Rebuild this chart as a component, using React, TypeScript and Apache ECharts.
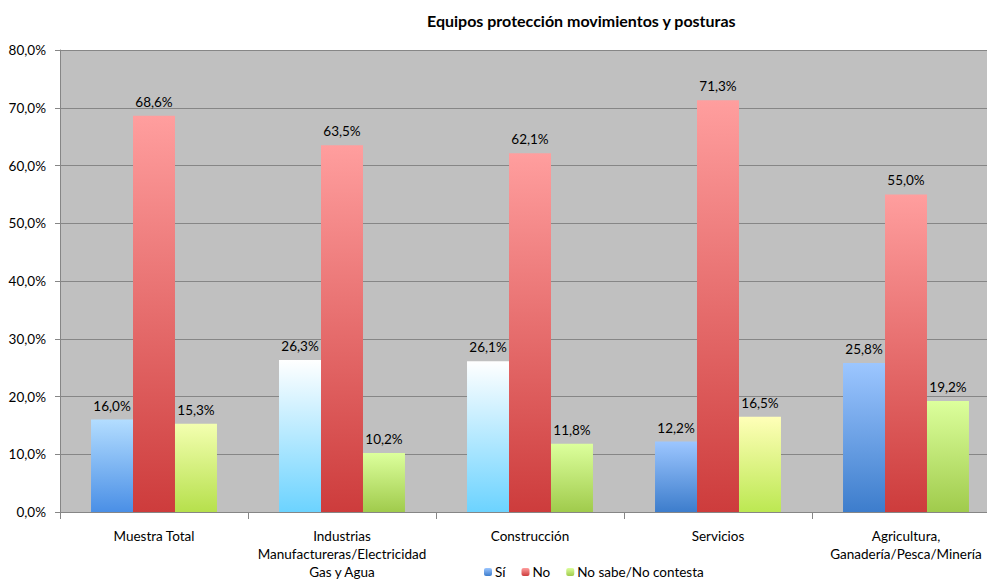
import React, { useEffect, useRef } from "react";
import * as echarts from "echarts";

const categories = [
  "Muestra Total",
  "Industrias\nManufactureras/Electricidad\nGas y Agua",
  "Construcción",
  "Servicios",
  "Agricultura,\nGanadería/Pesca/Minería",
];
const seriesNames = ["Sí", "No", "No sabe/No contesta"];
const siValues = [16.0, 26.3, 26.1, 12.2, 25.8];
const noValues = [68.6, 63.5, 62.1, 71.3, 55.0];
const nsValues = [15.3, 10.2, 11.8, 16.5, 19.2];
const yTicks = [0, 10, 20, 30, 40, 50, 60, 70, 80];

const grad = (top: string, bottom: string) =>
  new echarts.graphic.LinearGradient(0, 0, 0, 1, [
    { offset: 0, color: top },
    { offset: 1, color: bottom },
  ]);

const siColors: [string, string][] = [
  ["#b3ddff", "#4a8fe6"],
  ["#ffffff", "#6cd3ff"],
  ["#ffffff", "#6cd3ff"],
  ["#9cc6ff", "#3d7dcc"],
  ["#9cc6ff", "#3d7dcc"],
];
const nsColors: [string, string][] = [
  ["#f3ffb0", "#b6e04c"],
  ["#dcff9c", "#a0cb4c"],
  ["#dcff9c", "#a0cb4c"],
  ["#ffffb8", "#bce852"],
  ["#dcff9c", "#a0cb4c"],
];

const fmt = (v: number) => v.toFixed(1).replace(".", ",") + "%";
const FONT = "Lato, 'Noto Sans', sans-serif";
const FS = 13.5;

export default function App() {
  const ref = useRef<HTMLDivElement>(null);
  useEffect(() => {
    if (!ref.current) return;
    const chart = echarts.init(ref.current, null, { renderer: "svg" });
    const label = {
      show: true,
      position: "top" as const,
      distance: 7,
      color: "#000",
      fontSize: FS,
      fontFamily: FONT,
      formatter: (p: any) => fmt(p.value),
    };
    chart.setOption({
      animation: false,
      backgroundColor: "#ffffff",
      textStyle: { fontFamily: FONT },
      title: {
        text: "Equipos protección movimientos y posturas",
        left: 427,
        top: 12,
        padding: 0,
        textStyle: { fontSize: 16, fontWeight: "bold", color: "#000", fontFamily: FONT },
      },
      legend: {
        data: seriesNames,
        left: 484,
        top: 565,
        padding: 0,
        itemWidth: 8,
        itemHeight: 8,
        itemGap: 16,
        textStyle: { fontSize: FS, color: "#000", fontFamily: FONT, padding: [0, 0, 0, -2] },
      },
      grid: {
        left: 60,
        top: 50,
        width: 940,
        height: 462,
        outerBoundsMode: "none",
        containLabel: false,
        show: true,
        backgroundColor: "#c0c0c0",
        borderWidth: 0,
      },
      xAxis: {
        type: "category",
        data: categories,
        axisLine: { show: true, lineStyle: { color: "#868686", width: 1 } },
        axisTick: { show: true, alignWithLabel: false, length: 7, lineStyle: { color: "#868686" } },
        axisLabel: {
          interval: 0,
          color: "#000",
          fontSize: FS,
          fontFamily: FONT,
          lineHeight: 18,
          margin: 15,
        },
        splitLine: { show: false },
      },
      yAxis: {
        type: "value",
        min: yTicks[0],
        max: yTicks[yTicks.length - 1],
        interval: 10,
        axisLine: { show: true, lineStyle: { color: "#868686", width: 1 } },
        axisTick: { show: true, length: 5, lineStyle: { color: "#868686" } },
        axisLabel: {
          color: "#000",
          fontSize: FS,
          fontFamily: FONT,
          margin: 14,
          formatter: (v: number) => fmt(v),
        },
        splitLine: { show: true, lineStyle: { color: "#868686", width: 1 } },
      },
      series: [
        {
          name: seriesNames[0],
          type: "bar",
          barGap: "0%",
          barCategoryGap: "33%",
          itemStyle: { color: grad("#9cc6ff", "#3d7dcc") },
          data: siValues.map((v, i) => ({
            value: v,
            itemStyle: { color: grad(siColors[i][0], siColors[i][1]) },
          })),
          label,
        },
        {
          name: seriesNames[1],
          type: "bar",
          itemStyle: { color: grad("#ff9e9e", "#cd3c3c") },
          data: noValues,
          label,
        },
        {
          name: seriesNames[2],
          type: "bar",
          itemStyle: { color: grad("#dcff9c", "#a0cb4c") },
          data: nsValues.map((v, i) => ({
            value: v,
            itemStyle: { color: grad(nsColors[i][0], nsColors[i][1]) },
          })),
          label,
        },
      ],
    });
    return () => chart.dispose();
  }, []);
  return <div ref={ref} style={{ width: 987, height: 581, position: "absolute", left: 0, top: 0 }} />;
}
